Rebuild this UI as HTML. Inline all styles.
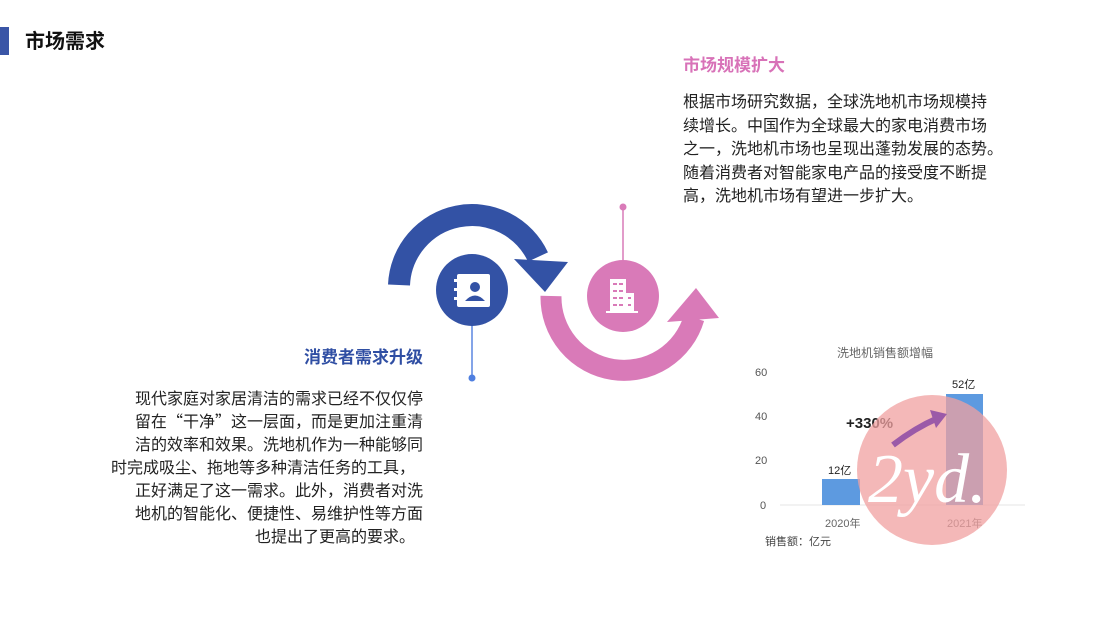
<!DOCTYPE html>
<html><head><meta charset="utf-8"><style>
html,body{margin:0;padding:0;background:#fff;}
body{width:1100px;height:619px;position:relative;overflow:hidden;font-family:"Liberation Sans","Noto Sans CJK SC",sans-serif;}
.t{position:absolute;white-space:nowrap;color:#222;font-size:16px;line-height:20px;}
.r{text-align:right;}
.q{font-family:"Noto Sans CJK SC",sans-serif;line-height:0;}
</style></head><body>
<div style="position:absolute;left:0;top:27px;width:9px;height:28px;background:#3a55a6;"></div>
<div class="t" style="left:25px;top:30px;font-size:20px;line-height:24px;font-weight:bold;color:#111;">市场需求</div>

<div class="t" style="left:683px;top:55px;font-size:17px;line-height:22px;font-weight:bold;color:#d872b8;">市场规模扩大</div>
<div class="t" style="left:683px;top:93px;">根据市场研究数据，全球洗地机市场规模持</div>
<div class="t" style="left:683px;top:116.5px;">续增长。中国作为全球最大的家电消费市场</div>
<div class="t" style="left:683px;top:140px;">之一，洗地机市场也呈现出蓬勃发展的态势。</div>
<div class="t" style="left:683px;top:163.5px;">随着消费者对智能家电产品的接受度不断提</div>
<div class="t" style="left:683px;top:187px;">高，洗地机市场有望进一步扩大。</div>

<div class="t r" style="right:677px;top:347px;font-size:17px;line-height:22px;font-weight:bold;color:#2f4ea3;">消费者需求升级</div>
<div class="t r" style="right:677px;top:390px;">现代家庭对家居清洁的需求已经不仅仅停</div>
<div class="t r" style="right:677px;top:413px;height:20px;">留在<span class="q">“</span>干净<span class="q">”</span>这一层面，而是更加注重清</div>
<div class="t r" style="right:677px;top:436px;">洁的效率和效果。洗地机作为一种能够同</div>
<div class="t r" style="right:685px;top:459px;">时完成吸尘、拖地等多种清洁任务的工具，</div>
<div class="t r" style="right:677px;top:482px;">正好满足了这一需求。此外，消费者对洗</div>
<div class="t r" style="right:677px;top:505px;">地机的智能化、便捷性、易维护性等方面</div>
<div class="t r" style="right:685px;top:528px;">也提出了更高的要求。</div>

<svg width="1100" height="619" style="position:absolute;left:0;top:0;">
  <path d="M399 285 A73 73 0 0 1 538 257" fill="none" stroke="#3352a5" stroke-width="22"/>
  <polygon points="514,259 568,262 545,292" fill="#3352a5"/>
  <path d="M551 296 A73 73 0 0 0 694 318" fill="none" stroke="#d97ab8" stroke-width="21"/>
  <polygon points="667,322 719,318 696,288" fill="#d97ab8"/>
  <line x1="472" y1="320" x2="472" y2="378" stroke="#5b86e0" stroke-width="1.5"/>
  <circle cx="472" cy="378" r="3.5" fill="#4f7fe0"/>
  <line x1="623" y1="207" x2="623" y2="270" stroke="#d97ab8" stroke-width="1.5"/>
  <circle cx="623" cy="207" r="3.5" fill="#d97ab8"/>
  <circle cx="472" cy="290" r="36" fill="#3352a5"/>
  <rect x="457" y="274" width="33" height="33" rx="2" fill="#fff"/>
  <rect x="454" y="279" width="6" height="3" fill="#fff"/><rect x="454" y="288" width="6" height="3" fill="#fff"/><rect x="454" y="297" width="6" height="3" fill="#fff"/>
  <circle cx="475" cy="287" r="5" fill="#3352a5"/>
  <path d="M465 301 Q475 290 485 301 Z" fill="#3352a5"/>
  <circle cx="623" cy="296" r="36" fill="#d97ab8"/>
  <rect x="610" y="279" width="16" height="32" fill="#fff"/>
  <rect x="626" y="293" width="8" height="18" fill="#fff"/>
  <rect x="606" y="311" width="32" height="2" fill="#fff"/>
  <g fill="#d97ab8">
    <rect x="613" y="283" width="4" height="2"/><rect x="619" y="283" width="4" height="2"/>
    <rect x="613" y="290" width="4" height="2"/><rect x="619" y="290" width="4" height="2"/>
    <rect x="613" y="297" width="4" height="2"/><rect x="619" y="297" width="4" height="2"/><rect x="628" y="297" width="3" height="2"/>
    <rect x="613" y="304" width="4" height="2"/><rect x="619" y="304" width="4" height="2"/><rect x="628" y="304" width="3" height="2"/>
  </g>
  <text x="885" y="357" font-size="12" fill="#666" text-anchor="middle" font-family="Liberation Sans, Noto Sans CJK SC, sans-serif">洗地机销售额增幅</text>
  <g font-size="11" fill="#555" font-family="Liberation Sans, sans-serif">
    <text x="755" y="376">60</text><text x="755" y="420">40</text><text x="755" y="464">20</text><text x="760" y="509">0</text>
  </g>
  <line x1="780" y1="505" x2="1025" y2="505" stroke="#e6e6e6"/>
  <rect x="822" y="479" width="38" height="26" fill="#5d9ae0"/>
  <rect x="946" y="394" width="37" height="111" fill="#5d9ae0"/>
  <text x="828" y="474" font-size="11" fill="#222" font-family="Liberation Sans, Noto Sans CJK SC, sans-serif">12亿</text>
  <text x="952" y="388" font-size="11" fill="#222" font-family="Liberation Sans, Noto Sans CJK SC, sans-serif">52亿</text>
  <text x="846" y="428" font-size="15" fill="#222" font-weight="bold" font-family="Liberation Sans, sans-serif">+330%</text>
  <text x="825" y="527" font-size="11" fill="#666" font-family="Liberation Sans, Noto Sans CJK SC, sans-serif">2020年</text>
  <text x="947" y="527" font-size="11" fill="#666" font-family="Liberation Sans, Noto Sans CJK SC, sans-serif">2021年</text>
  <text x="765" y="545" font-size="11" fill="#444" font-family="Liberation Sans, Noto Sans CJK SC, sans-serif">销售额：亿元</text>
  <circle cx="932" cy="470" r="75" fill="#f0a0a0" opacity="0.75"/>
  <path d="M893 445 Q915 428 938 418" fill="none" stroke="#9b5aa8" stroke-width="6"/>
  <polygon points="930,410 947,414 936,428" fill="#9b5aa8"/>
  <text x="868" y="502" font-size="70" fill="#fff" font-style="italic" font-family="Liberation Serif, serif">2yd.</text>
</svg>
</body></html>
